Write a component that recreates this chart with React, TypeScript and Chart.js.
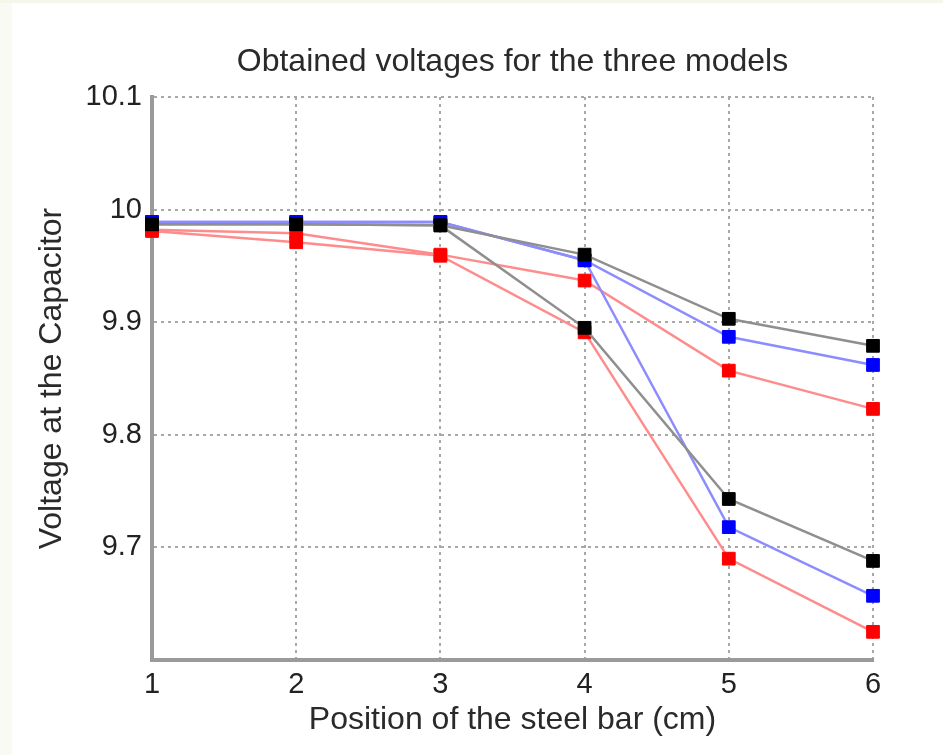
import React, { useEffect, useRef } from 'react';
import { Chart, registerables } from 'chart.js';

Chart.register(...registerables);

const positions = ['1', '2', '3', '4', '5', '6'];

const blackUpper = [9.987, 9.987, 9.986, 9.96, 9.903, 9.879];
const blackLower = [9.987, 9.987, 9.986, 9.895, 9.743, 9.688];
const blueUpper = [9.989, 9.989, 9.989, 9.955, 9.887, 9.862];
const blueLower = [9.989, 9.989, 9.989, 9.955, 9.718, 9.657];
const redUpper = [9.982, 9.979, 9.96, 9.937, 9.857, 9.823];
const redLower = [9.981, 9.971, 9.959, 9.891, 9.69, 9.625];

const yTickValues = [9.7, 9.8, 9.9, 10.0, 10.1];
const yTickLabels = ['9.7', '9.8', '9.9', '10', '10.1'];

const FONT = 'Liberation Sans, Arial, sans-serif';

export default function App() {
  const ref = useRef<HTMLCanvasElement>(null);

  useEffect(() => {
    document.body.style.margin = '0';
    const canvas = ref.current;
    if (!canvas) return;

    const series = (
      label: string,
      data: number[],
      line: string,
      marker: string,
      order: number
    ) => ({
      label,
      data,
      borderColor: line,
      borderWidth: 2.5,
      backgroundColor: marker,
      pointStyle: 'rect' as const,
      pointRadius: 9,
      pointBackgroundColor: marker,
      pointBorderColor: marker,
      pointBorderWidth: 1,
      tension: 0,
      fill: false,
      order,
    });

    const chart = new Chart(canvas, {
      type: 'line',
      data: {
        labels: positions,
        datasets: [
          series('Model A (upper)', blackUpper, '#8f8f8f', '#000000', 1),
          series('Model A (lower)', blackLower, '#8f8f8f', '#000000', 1),
          series('Model B (upper)', blueUpper, '#8c8cff', '#0000ff', 2),
          series('Model B (lower)', blueLower, '#8c8cff', '#0000ff', 2),
          series('Model C (upper)', redUpper, '#ff8c8c', '#ff0000', 3),
          series('Model C (lower)', redLower, '#ff8c8c', '#ff0000', 3),
        ],
      },
      options: {
        animation: false,
        responsive: false,
        devicePixelRatio: 1,
        layout: { padding: { left: 0, right: 70, top: 0, bottom: 0 } },
        plugins: {
          legend: { display: false },
          tooltip: { enabled: false },
          title: {
            display: true,
            fullSize: false,
            text: 'Obtained voltages for the three models',
            color: '#2a2a2a',
            font: { family: FONT, size: 32, weight: 'normal' },
            padding: { top: 43, bottom: 15.6 },
          },
        },
        scales: {
          x: {
            type: 'category',
            offset: false,
            grid: {
              color: '#a8a8a8',
              lineWidth: 2,
              drawTicks: false,
              offset: false,
            },
            border: { display: true, color: '#9a9a9a', width: 4, dash: [3, 4] },
            ticks: {
              color: '#222',
              font: { family: FONT, size: 29 },
              padding: 8,
              maxRotation: 0,
            },
            title: {
              display: true,
              text: 'Position of the steel bar (cm)',
              color: '#2a2a2a',
              font: { family: FONT, size: 32, weight: 'normal' },
              padding: { top: 0, bottom: 16 },
            },
            afterFit: (scale: any) => {
              scale.height = 95;
            },
          },
          y: {
            type: 'linear',
            min: 9.6,
            max: 10.1,
            grid: { color: '#a8a8a8', lineWidth: 2, drawTicks: false },
            border: { display: true, color: '#9a9a9a', width: 4, dash: [3, 4] },
            ticks: {
              stepSize: 0.1,
              color: '#222',
              font: { family: FONT, size: 29 },
              padding: 10,
              callback: (value: any) => {
                const v = Number(value);
                const i = yTickValues.findIndex((t) => Math.abs(t - v) < 1e-6);
                return i >= 0 ? yTickLabels[i] : '';
              },
            },
            title: {
              display: true,
              text: 'Voltage at the Capacitor',
              color: '#2a2a2a',
              font: { family: FONT, size: 32, weight: 'normal' },
              padding: { top: 33, bottom: 0 },
            },
            afterFit: (scale: any) => {
              scale.width = 152;
            },
          },
        },
      },
    });

    return () => chart.destroy();
  }, []);

  return (
    <div style={{ position: 'relative', width: 943, height: 755, background: '#ffffff' }}>
      <div style={{ position: 'absolute', left: 0, top: 0, width: 12, height: 755, background: '#f9faf4' }} />
      <div style={{ position: 'absolute', left: 0, top: 0, width: 943, height: 3, background: '#f4f7ea' }} />
      <canvas
        ref={ref}
        width={943}
        height={755}
        style={{ position: 'absolute', left: 0, top: 0, width: 943, height: 755 }}
      />
    </div>
  );
}
